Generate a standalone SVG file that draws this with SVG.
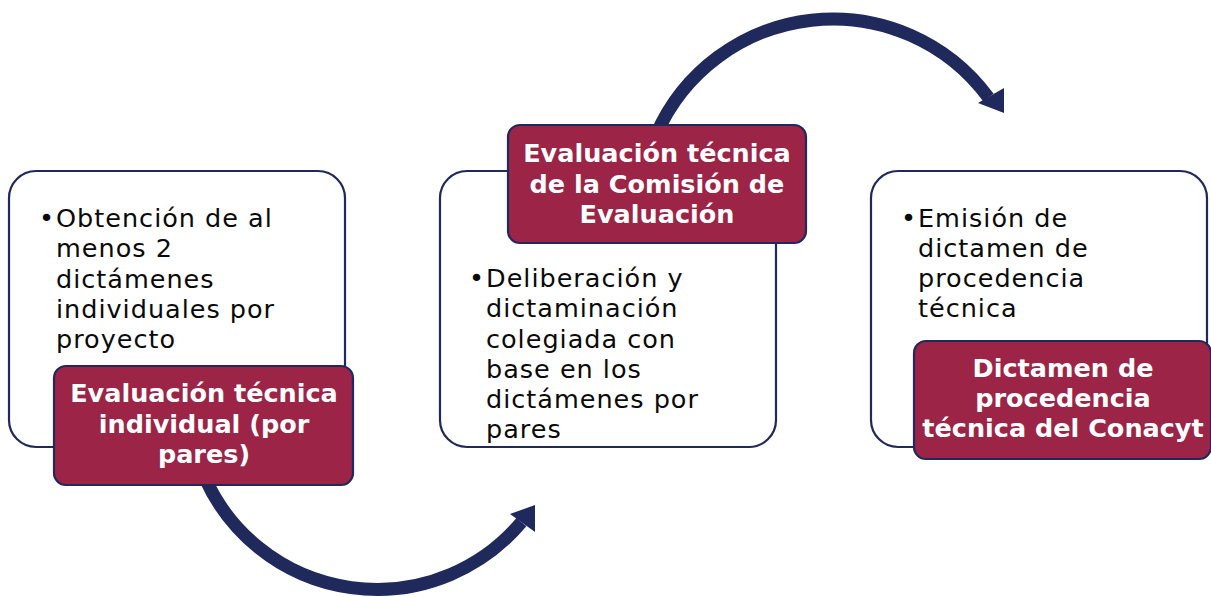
<svg xmlns="http://www.w3.org/2000/svg" width="1211" height="597" viewBox="0 0 1211 597">
<style>
.card{fill:#ffffff;stroke:#1f295b;stroke-width:2.2}
.tag{fill:#9c2447;stroke:#1f295b;stroke-width:2.2}
.body{font-family:"DejaVu Sans",Verdana,sans-serif;font-size:25.5px;letter-spacing:1px;fill:#0a0a0a}
.head{font-family:"DejaVu Sans",Verdana,sans-serif;font-size:25.5px;font-weight:bold;fill:#ffffff;text-anchor:middle}
.arc{fill:none;stroke:#1f295b;stroke-width:13}
.head-arrow{fill:#1f295b}
</style>
<rect width="1211" height="597" fill="#ffffff"/>
<g id="connectors">
<path class="arc" d="M205,478 A188.5,188.5 0 0 0 521.4,522.1"/>
<polygon class="head-arrow" points="510,514 535,505 535,532"/>
<path class="arc" d="M656,135 A193,193 0 0 1 988.4,97.5"/>
<polygon class="head-arrow" points="978,103 1004,88 1004,113"/>
</g>
<g id="node1">
<rect class="card" x="9" y="171" width="336" height="276" rx="27"/>
<text class="body"><tspan x="39" y="227">•</tspan></text>
<text class="body"><tspan x="56" y="227">Obtención de al</tspan><tspan x="56" y="257">menos 2</tspan><tspan x="56" y="288">dictámenes</tspan><tspan x="56" y="318">individuales por</tspan><tspan x="56" y="348">proyecto</tspan></text>
<rect class="tag" x="54" y="366" width="299" height="119" rx="12"/>
<text class="head"><tspan x="204" y="402">Evaluación técnica</tspan><tspan x="204" y="433">individual (por</tspan><tspan x="204" y="463">pares)</tspan></text>
</g>
<g id="node2">
<rect class="card" x="440" y="171" width="336" height="276" rx="27"/>
<text class="body"><tspan x="469" y="287">•</tspan></text>
<text class="body"><tspan x="486" y="287">Deliberación y</tspan><tspan x="486" y="317">dictaminación</tspan><tspan x="486" y="348">colegiada con</tspan><tspan x="486" y="378">base en los</tspan><tspan x="486" y="408">dictámenes por</tspan><tspan x="486" y="438">pares</tspan></text>
<rect class="tag" x="508" y="125" width="298" height="118" rx="12"/>
<text class="head"><tspan x="657" y="162">Evaluación técnica</tspan><tspan x="657" y="193">de la Comisión de</tspan><tspan x="657" y="223">Evaluación</tspan></text>
</g>
<g id="node3">
<rect class="card" x="871" y="171" width="336" height="276" rx="27"/>
<text class="body"><tspan x="901" y="227">•</tspan></text>
<text class="body"><tspan x="918" y="227">Emisión de</tspan><tspan x="918" y="257">dictamen de</tspan><tspan x="918" y="287">procedencia</tspan><tspan x="918" y="317">técnica</tspan></text>
<rect class="tag" x="914" y="341" width="297" height="118" rx="12"/>
<text class="head"><tspan x="1063" y="377">Dictamen de</tspan><tspan x="1063" y="407">procedencia</tspan><tspan x="1063" y="437">técnica del Conacyt</tspan></text>
</g>
</svg>
